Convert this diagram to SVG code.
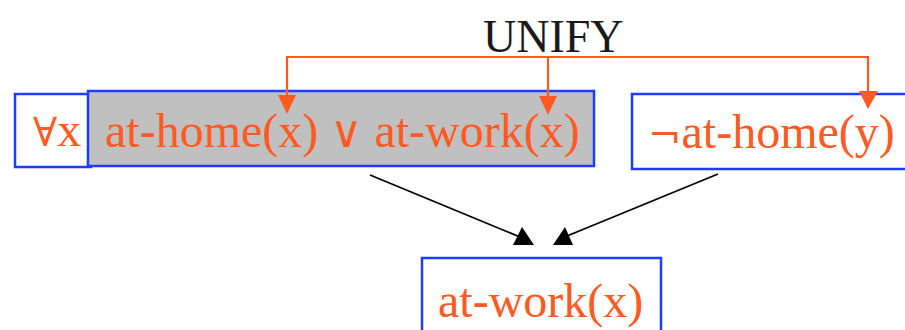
<svg xmlns="http://www.w3.org/2000/svg" width="905" height="330" viewBox="0 0 905 330">
  <style>
    .box { fill: #ffffff; stroke: #1f3dff; stroke-width: 2.5; }
    .sel { fill: #c0c0c0; stroke: #1f3dff; stroke-width: 2.5; }
    .lit { font-family: "Liberation Serif", "Times New Roman", serif; font-size: 48px; fill: #ff5a22; }
    .sym { font-family: "DejaVu Serif", serif; }
    .title { font-family: "Liberation Serif", "Times New Roman", serif; font-size: 46px; fill: #1a1a1a; }
    .uni { fill: none; stroke: #ff5a22; stroke-width: 2.2; }
    .uhead { fill: #ff5a22; }
    .flow { fill: none; stroke: #000000; stroke-width: 1.8; }
    .fhead { fill: #000000; }
  </style>

  <!-- clause 1: quantifier and disjunction -->
  <g id="clause-forall">
    <rect class="box" x="15" y="94" width="76" height="73"/>
    <text class="lit" x="33" y="146"><tspan class="sym" font-size="40">∀</tspan>x</text>
  </g>
  <g id="clause-disjunction">
    <rect class="sel" x="88" y="91" width="506" height="75"/>
    <text class="lit" x="105" y="147">at-home(x) <tspan class="sym" font-size="44">∨</tspan> at-work(x)</text>
  </g>

  <!-- clause 2: negated literal -->
  <g id="clause-negation">
    <rect class="box" x="632" y="94" width="290" height="75"/>
    <text class="lit" x="648" y="148"><tspan class="sym" font-size="40">¬</tspan>at-home(y)</text>
  </g>

  <!-- resolvent -->
  <g id="resolvent">
    <rect class="box" x="422" y="258" width="239" height="90"/>
    <text class="lit" x="438" y="317">at-work(x)</text>
  </g>

  <g id="unify-label">
    <text class="title" x="483" y="52">UNIFY</text>
  </g>

  <g id="connectors">
    <!-- unification bracket -->
    <polyline class="uni" points="287,97 287,57 868,57 868,93"/>
    <line class="uni" x1="548" y1="57" x2="548" y2="97"/>
    <polygon class="uhead" points="278,95 296,95 287,114"/>
    <polygon class="uhead" points="539,96 557,96 548,115"/>
    <polygon class="uhead" points="859,91 878,91 868,109"/>

    <!-- resolution arrows -->
    <line class="flow" x1="370" y1="175" x2="520" y2="237"/>
    <polygon class="fhead" points="513,245 522,227 534,245"/>
    <line class="flow" x1="718" y1="174" x2="567" y2="236"/>
    <polygon class="fhead" points="553,245 565,227 573,245"/>
  </g>
</svg>
